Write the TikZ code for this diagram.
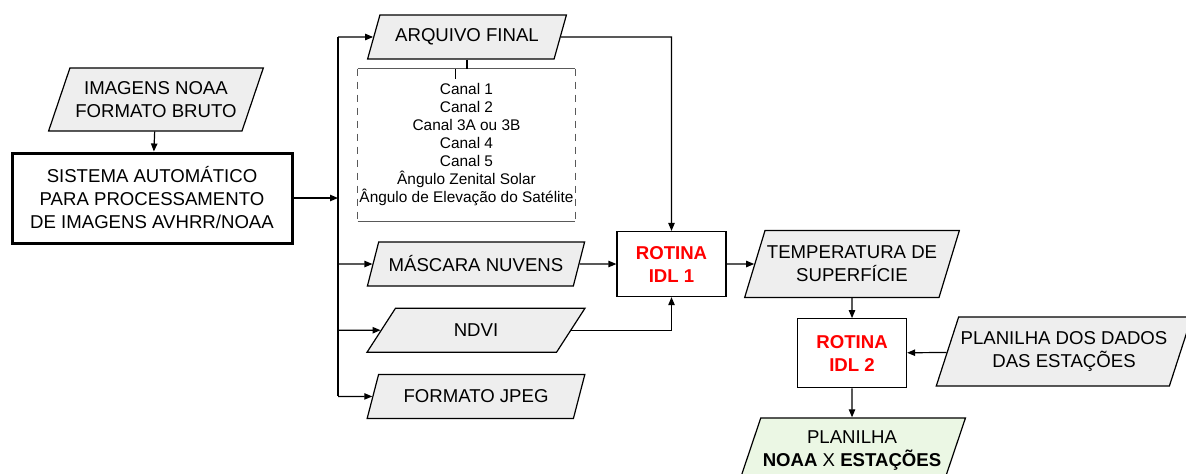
\documentclass[tikz,border=0pt]{standalone}
\usepackage{fontspec}
\setmainfont{Liberation Sans}
\usetikzlibrary{shapes.geometric, arrows.meta, positioning}
\definecolor{datagray}{RGB}{238,238,238}
\definecolor{resultgreen}{RGB}{235,247,228}
\definecolor{rotinared}{RGB}{255,0,0}

\begin{document}
\begin{tikzpicture}[
        x=0.5pt, y=-0.5pt,
        data/.style={trapezium, trapezium left angle=63, trapezium right angle=117, trapezium stretches=true, draw, fill=datagray, line width=0.6pt, inner xsep=1pt, inner ysep=1pt, align=center, font=\fontsize{9.3}{11.5}\selectfont},
        block/.style={draw, line width=0.6pt, fill=white, align=center, font=\fontsize{9.3}{11.5}\selectfont},
        rotina/.style={block, minimum width=54.5pt, font=\fontsize{9.3}{11.5}\selectfont\bfseries, text=rotinared},
        arrow/.style={-{Triangle[length=4pt, width=3.2pt]}, line width=0.6pt},
        line/.style={line width=0.6pt}
    ]
        \useasboundingbox (0,0) rectangle (1186,473);

        % Input
        \node[block, line width=1.5pt, minimum width=140pt, minimum height=45pt] (sistema) at (152,198) {SISTEMA AUTOMÁTICO\\PARA PROCESSAMENTO\\DE IMAGENS AVHRR/NOAA};
        \node[data, minimum width=107.5pt, minimum height=31.5pt, above=10pt of sistema, xshift=2pt] (imagens) {IMAGENS NOAA\\FORMATO BRUTO};

        % Products
        \node[data, minimum width=100pt, minimum height=22pt] (arquivo) at (467,37) {ARQUIVO FINAL};
        \node[inner xsep=0pt, minimum width=108.5pt, minimum height=76pt, align=center, font=\fontsize{7.7}{9}\selectfont] (canais) at (466.5,145) {Canal 1\\Canal 2\\Canal 3A ou 3B\\Canal 4\\Canal 5\\Ângulo Zenital Solar\\Ângulo de Elevação do Satélite};
        \node[data, minimum width=109pt, minimum height=22pt] (mascara) at (476,264) {MÁSCARA NUVENS};
        \node[data, minimum width=109pt, minimum height=22pt, below=10.5pt of mascara] (ndvi) {NDVI};
        \node[data, minimum width=109pt, minimum height=22pt, below=10.5pt of ndvi] (jpeg) {FORMATO JPEG};

        % Routines
        \node[rotina, minimum height=32.5pt] (rotina1) at (671.5,264) {ROTINA\\IDL 1};
        \node[data, minimum width=107.5pt, minimum height=33.5pt] (temperatura) at (852,264) {TEMPERATURA DE\\SUPERFÍCIE};
        \node[rotina, minimum height=34.5pt, below=10pt of temperatura] (rotina2) {ROTINA\\IDL 2};
        \node[data, minimum width=124pt, minimum height=34.5pt] (estacoes) at (1064,351.5) {PLANILHA DOS DADOS\\DAS ESTAÇÕES};

        % Output
        \node[data, fill=resultgreen, minimum width=112pt, minimum height=33pt, below=14.5pt of rotina2] (planilha) {PLANILHA\\\textbf{NOAA} X \textbf{ESTAÇÕES}};

        % Bracket box
        \draw[line, black!65] (canais.north west) -- (canais.north east);
        \draw[line, black!65] (canais.south west) -- (canais.south east);
        \draw[line, black!65, dash pattern=on 3.5pt off 3pt] (canais.north west) -- (canais.south west);
        \draw[line, black!65, dash pattern=on 3.5pt off 3pt] (canais.north east) -- (canais.south east);
        \draw[line] (arquivo.south) -- (arquivo.south |- canais.north);
        \draw[line] ([xshift=-5.5pt]canais.north) -- ++(0,10);

        % Arrows
        \coordinate (bus) at (338,198);
        \draw[arrow] (imagens) -- (sistema);
        \draw[arrow] (sistema) -- (bus);
        \draw[line] (bus |- arquivo) -- (bus |- jpeg);
        \draw[arrow] (bus |- arquivo) -- (arquivo);
        \draw[arrow] (bus |- mascara) -- (mascara);
        \draw[arrow] (bus |- ndvi) -- (ndvi);
        \draw[arrow] (bus |- jpeg) -- (jpeg);
        \draw[arrow] (arquivo) -- (arquivo -| rotina1) -- (rotina1);
        \draw[arrow] (mascara) -- (rotina1);
        \draw[arrow] (ndvi) -| (rotina1);
        \draw[arrow] (rotina1) -- (temperatura);
        \draw[arrow] (temperatura) -- (rotina2);
        \draw[arrow] (estacoes) -- (rotina2);
        \draw[arrow] (rotina2) -- (planilha);

    \end{tikzpicture}
\end{document}
